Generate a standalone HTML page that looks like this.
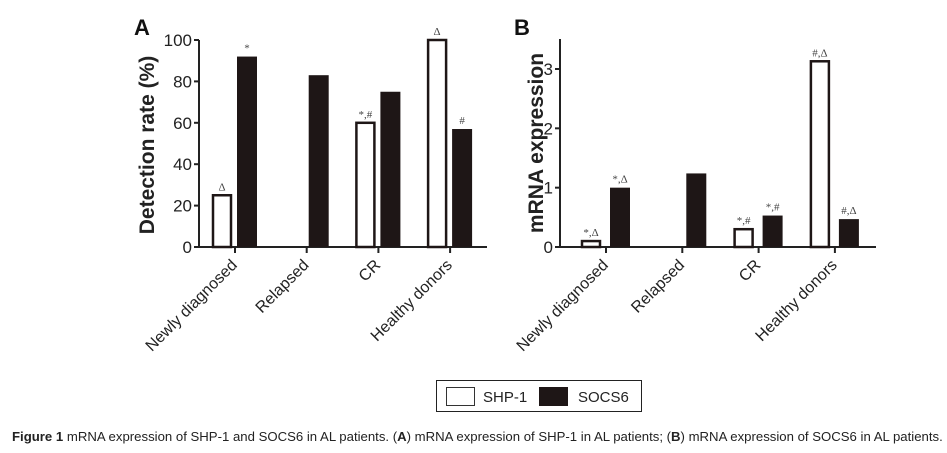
<!DOCTYPE html>
<html><head><meta charset="utf-8"><style>
body{margin:0;background:#fff;width:947px;height:453px;overflow:hidden;font-family:"Liberation Sans",sans-serif}
svg{position:absolute;left:0;top:0}
#cap{position:absolute;left:12px;top:430px;font-size:12.5px;color:#222;white-space:nowrap;transform-origin:0 0}
</style></head><body>
<svg id="chart" width="947" height="453"></svg>
<div id="cap"><b>Figure 1</b> mRNA expression of SHP-1 and SOCS6 in AL patients. (<b>A</b>) mRNA expression of SHP-1 in AL patients; (<b>B</b>) mRNA expression of SOCS6 in AL patients.</div>
<script>
const categories=["Newly diagnosed","Relapsed","CR","Healthy donors"];
const shpA=[25,null,60,100];
const socsA=[92,83,75,57];
const shpAMarks=["Δ","","*,#","Δ"];
const socsAMarks=["*","","","#"];
const ticksA=[0,20,40,60,80,100];
const shpB=[0.1,null,0.3,3.13];
const socsB=[1.0,1.24,0.53,0.47];
const shpBMarks=["*,Δ","","*,#","#,Δ"];
const socsBMarks=["*,Δ","","*,#","#,Δ"];
const ticksB=[0,1,2,3];
const NS="http://www.w3.org/2000/svg";
const svg=document.getElementById('chart');
function mk(tag,at,txt){const e=document.createElementNS(NS,tag);for(const k in at)e.setAttribute(k,at[k]);if(txt!==undefined)e.textContent=txt;svg.appendChild(e);return e;}
function panel(o){
  const y=v=>o.y0-(v-o.min)/(o.max-o.min)*(o.y0-o.yTop);
  const x=i=>o.x0+o.first+i*o.step;
  let e=mk('line',{x1:o.ax,y1:o.y0,x2:o.ax,y2:o.axisTop,stroke:'#222','stroke-width':2});
  
  e=mk('line',{x1:o.ax-1,y1:o.y0,x2:o.xEnd,y2:o.y0,stroke:'#222','stroke-width':2});
  
  o.ticks.forEach(t=>{
    e=mk('line',{x1:o.ax-5,y1:y(t),x2:o.ax,y2:y(t),stroke:'#222','stroke-width':2});
    
    e=mk('text',{x:o.ax-o.lblGap,y:y(t)+6,'text-anchor':'end','font-size':17,fill:'#222'},String(t));
    
  });
  categories.forEach((c,i)=>{
    const cx=x(i);
    e=mk('line',{x1:cx,y1:o.y0,x2:cx,y2:o.y0+6,stroke:'#222','stroke-width':2});
    
    e=mk('text',{x:cx+3,y:o.y0+19,'text-anchor':'end','font-size':16,fill:'#222',transform:`rotate(-45 ${cx+3} ${o.y0+19})`},c);
    
    if(o.shp[i]!=null){
      const top=y(o.shp[i]);
      e=mk('rect',{x:cx+o.sOff+1,y:top,width:o.bw-2,height:o.y0-top,fill:'#fff',stroke:'#1e1616','stroke-width':2.5});
      
      e=mk('text',{x:cx+o.sOff+o.bw/2,y:top-5,'text-anchor':'middle','font-size':11,fill:'#444','font-family':'Liberation Serif'},o.shpM[i]);
      
    }
    const top2=y(o.socs[i]);
    e=mk('rect',{x:cx+o.cOff,y:top2,width:o.bw,height:o.y0-top2,fill:'#1e1616'});
    
    if(o.socsM[i]){e=mk('text',{x:cx+o.cOff+o.bw/2,y:top2-5,'text-anchor':'middle','font-size':11,fill:'#444','font-family':'Liberation Serif'},o.socsM[i]);
    }
  });
  e=mk('text',{x:0,y:0,'text-anchor':'middle','font-size':21,'font-weight':'bold',fill:'#222',transform:`translate(${o.titleX} ${o.titleY}) rotate(-90)`},o.title);
  
  e=mk('text',{x:o.letterX,y:35,'font-size':22,'font-weight':'bold',fill:'#111'},o.letter);
  
}
panel({id:'panel-a',shp:shpA,socs:socsA,shpM:shpAMarks,socsM:socsAMarks,ticks:ticksA,min:0,max:100,y0:247,yTop:40,axisTop:40,ax:199,xEnd:487,x0:0,first:235,step:71.7,sOff:-23,cOff:2,bw:20,title:'Detection rate (%)',titleX:154,titleY:145,lblGap:7,letter:'A',letterX:134});
panel({id:'panel-b',shp:shpB,socs:socsB,shpM:shpBMarks,socsM:socsBMarks,ticks:ticksB,min:0,max:3,y0:247,yTop:69,axisTop:39,ax:560,xEnd:876,x0:0,first:606,step:76.3,sOff:-25,cOff:4,bw:20,title:'mRNA expression',titleX:543,titleY:143,lblGap:7,letter:'B',letterX:514});
let g=mk('rect',{x:436.5,y:380.5,width:205,height:31,fill:'#fff',stroke:'#222','stroke-width':1});

g=mk('rect',{x:446.5,y:387.5,width:28,height:18,fill:'#fff',stroke:'#333','stroke-width':1});

g=mk('text',{x:483,y:402,'font-size':15,fill:'#222'},'SHP-1');

g=mk('rect',{x:539,y:387,width:29,height:19,fill:'#1e1616'});

g=mk('text',{x:578,y:402,'font-size':15,fill:'#222'},'SOCS6');

const cap=document.getElementById('cap');
cap.style.transform='scaleX('+(931/cap.offsetWidth)+')';
</script>
</body></html>
